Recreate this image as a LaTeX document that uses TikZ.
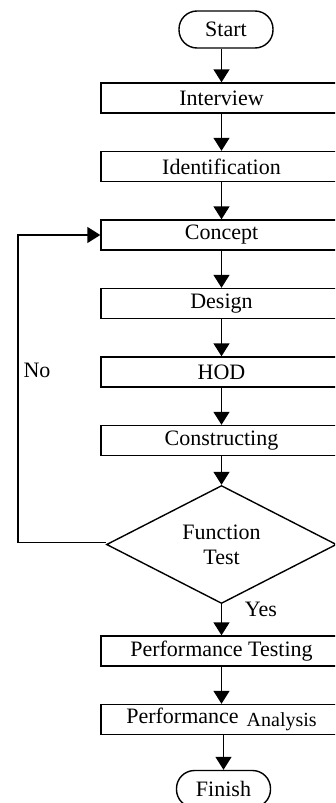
\documentclass[tikz,border=0pt]{standalone}
\usepackage{fontspec}
\setmainfont{Liberation Serif}
\usepackage{tikz}
\usetikzlibrary{shapes.geometric,arrows.meta}
\tikzstyle{block} = [rectangle, draw, line width=1.4pt, text centered,
    minimum width=241pt, minimum height=30pt, inner sep=0pt]
\tikzstyle{terminal} = [rectangle, draw, line width=1.4pt, rounded corners=18pt,
    minimum width=94pt, minimum height=37pt, inner sep=0pt]
\tikzstyle{decision} = [diamond, draw, line width=1.4pt, align=center,
    minimum width=230pt, minimum height=102pt, inner sep=0pt]
\tikzstyle{arrow} = [draw, -{Triangle[length=13pt,width=16pt]}, line width=1.4pt]
\tikzstyle{line} = [draw, line width=1.4pt]

\begin{document}
\begin{tikzpicture}[x=1pt, y=1pt, node distance=68.5pt,
    font=\fontsize{22}{25}\selectfont]
			\useasboundingbox (0,0) rectangle (335,-803);
			\clip (0,0) rectangle (335,-803);
			%
			\node [terminal] (start) at (226,-29.5) {Start};
			\node [block, below of=start, xshift=-4.5pt] (interview) {Interview};
			\node [block, below of=interview] (identification) {Identification};
			\node [block, below of=identification] (concept) {Concept};
			\node [block, below of=concept] (design) {Design};
			\node [block, below of=design] (hod) {HOD};
			\node [block, below of=hod] (constructing) {Constructing};
			\node [decision, below of=constructing, node distance=104pt] (test) {Function\\Test};
			\node [block, below of=test, node distance=106.5pt] (testing) {Performance Testing};
			\node [block, below of=testing] (analysis) {Performance\hspace{8pt}{\fontsize{20}{24}\selectfont\raisebox{-3pt}{Analysis}}};
			\node [terminal, below of=analysis, node distance=69.5pt, xshift=2pt] (finish) {Finish};

			\node (no) at (37,-370) {No};
			\node (yes) at (261,-609) {Yes};

			% Draw edges
			\path [arrow] (interview.north |- start.south) -- (interview.north);
			\path [arrow] (interview) -- (identification);
			\path [arrow] (identification) -- (concept);
			\path [arrow] (concept) -- (design);
			\path [arrow] (design) -- (hod);
			\path [arrow] (hod) -- (constructing);
			\path [arrow] (constructing) -- (test);
			\path [arrow] (test) -- (testing);
			\path [arrow] (testing) -- (analysis);
			\path [arrow] (finish.north |- analysis.south) -- (finish.north);

			\path [arrow] ([yshift=2pt]test.west) -- ++(-88pt,0) |- (concept.west);
%
	\end{tikzpicture}
\end{document}
